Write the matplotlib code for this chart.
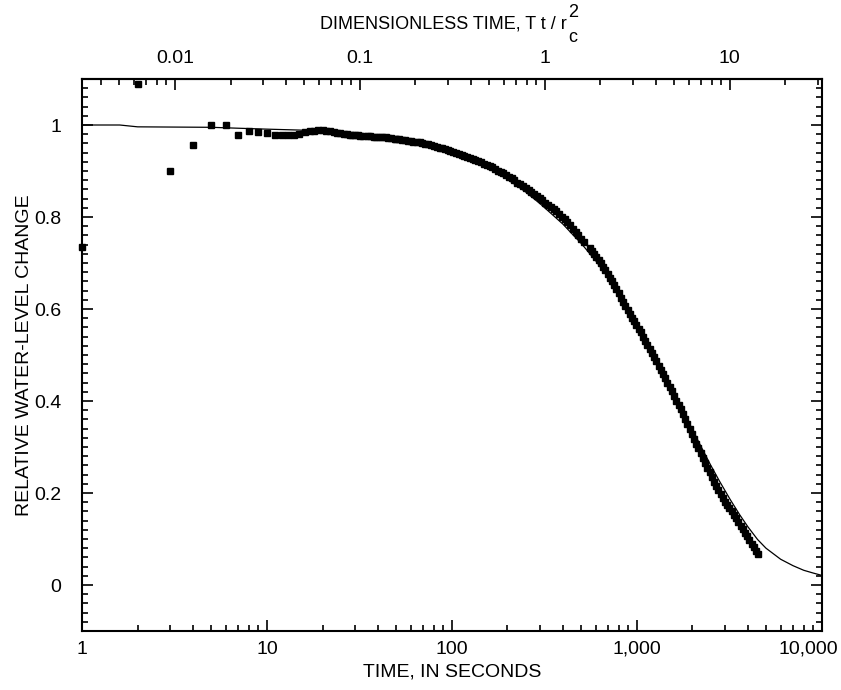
import matplotlib
matplotlib.use("Agg")
import matplotlib.pyplot as plt
from matplotlib.ticker import LogLocator, FuncFormatter, MultipleLocator
from matplotlib.transforms import ScaledTranslation

plt.rcParams['font.family'] = ['Liberation Sans', 'DejaVu Sans']

# measured data: time (s) and relative water-level change
obs_time = [1, 2, 3, 4, 5, 6, 7, 8, 9, 10, 11, 12, 13, 14, 15, 16, 17, 18, 19,
            20, 21, 22, 23, 24, 25, 26, 27, 28, 29, 30, 31, 32, 33, 35, 36, 38, 39,
            41, 42, 44, 45, 47, 49, 50, 52, 54, 56, 58, 60, 62, 65, 67, 69, 72, 74,
            77, 80, 83, 86, 89, 92, 95, 98, 102, 105, 109, 113, 117, 121, 125, 130,
            134, 139, 144, 149, 154, 160, 165, 171, 177, 184, 190, 197, 204, 211,
            218, 226, 234, 242, 251, 260, 269, 278, 288, 298, 309, 320, 331, 343,
            355, 367, 380, 393, 407, 421, 436, 452, 467, 484, 501, 518,
            557, 573, 589, 605, 622, 640, 658, 676, 695, 715, 735, 755, 776, 798,
            821, 844, 867, 892, 917, 942, 969, 996, 1024, 1052, 1082, 1112, 1143,
            1175, 1208, 1242, 1277, 1312, 1349, 1387, 1426, 1466, 1507, 1549, 1592,
            1637, 1683, 1730, 1778, 1828, 1879, 1932, 1986, 2041, 2098, 2157, 2217,
            2279, 2343, 2409, 2476, 2545, 2617, 2690, 2765, 2842, 2922, 3004, 3088,
            3174, 3263, 3354, 3448, 3545, 3644, 3746, 3851, 3959, 4070, 4184, 4301,
            4421, 4545]
obs_change = [0.735, 1.090, 0.901, 0.956, 1.000, 1.000, 0.978, 0.988, 0.985, 0.982,
              0.978, 0.978, 0.978, 0.978, 0.981, 0.984, 0.986, 0.988, 0.989,
              0.989, 0.988, 0.986, 0.985, 0.983, 0.982, 0.981, 0.980, 0.979, 0.978,
              0.978, 0.978, 0.977, 0.976, 0.976, 0.977, 0.975, 0.975, 0.974, 0.974,
              0.973, 0.972, 0.971, 0.970, 0.970, 0.969, 0.968, 0.967, 0.966, 0.965,
              0.964, 0.963, 0.962, 0.961, 0.959, 0.958, 0.956, 0.955, 0.953, 0.951,
              0.949, 0.948, 0.946, 0.944, 0.942, 0.940, 0.938, 0.935, 0.933, 0.931,
              0.929, 0.926, 0.924, 0.921, 0.919, 0.916, 0.913, 0.910, 0.908, 0.905,
              0.901, 0.898, 0.895, 0.891, 0.887, 0.884, 0.880, 0.875, 0.871, 0.867,
              0.863, 0.858, 0.854, 0.849, 0.845, 0.841, 0.836, 0.831, 0.826, 0.822,
              0.817, 0.812, 0.807, 0.801, 0.795, 0.789, 0.782, 0.775, 0.768, 0.761,
              0.753, 0.746,
              0.732, 0.726, 0.720, 0.713, 0.706, 0.699, 0.691, 0.684, 0.676, 0.668,
              0.660, 0.652, 0.643, 0.634, 0.625, 0.616, 0.607, 0.598, 0.589, 0.581,
              0.573, 0.565, 0.557, 0.549, 0.540, 0.531, 0.522, 0.513, 0.504, 0.495,
              0.486, 0.477, 0.468, 0.458, 0.449, 0.440, 0.430, 0.421, 0.411, 0.401,
              0.391, 0.382, 0.372, 0.361, 0.351, 0.340, 0.329, 0.318, 0.307, 0.297,
              0.286, 0.276, 0.265, 0.255, 0.245, 0.235, 0.225, 0.215, 0.206, 0.197,
              0.189, 0.181, 0.174, 0.167, 0.160, 0.153, 0.145, 0.137, 0.129, 0.121,
              0.114, 0.106, 0.098, 0.090, 0.082, 0.075, 0.068]

# type curve
curve_time = [1, 1.6, 2, 5, 7, 10, 15, 20, 30, 40, 50, 60, 80, 100, 130, 160, 200,
              250, 300, 350, 400, 450, 500, 600, 700, 800, 900, 1000, 1200, 1400,
              1700, 2000, 2200, 2500, 2800, 3200, 3600, 4000, 4500, 5000, 6000,
              7000, 8000, 9000, 10000]
curve_change = [1.0, 1.0, 0.996, 0.995, 0.993, 0.991, 0.989, 0.986, 0.979, 0.973,
                0.967, 0.962, 0.952, 0.941, 0.922, 0.905, 0.882, 0.855, 0.829, 0.805,
                0.784, 0.762, 0.743, 0.705, 0.669, 0.634, 0.600, 0.567, 0.509, 0.458,
                0.393, 0.338, 0.305, 0.262, 0.226, 0.186, 0.153, 0.126, 0.099, 0.080,
                0.056, 0.042, 0.032, 0.026, 0.021]

time_ticks = [1, 10, 100, 1000, 10000]
time_labels = ['1', '10', '100', '1,000', '10,000']
td_ticks = [0.01, 0.1, 1, 10]
td_labels = ['0.01', '0.1', '1', '10']

time_per_td = 318.0  # seconds per unit of dimensionless time

fig = plt.figure(figsize=(8.41, 6.90), dpi=100)
ax = fig.add_axes([0.0975, 0.0855, 0.8795, 0.80])

ax.plot(curve_time, curve_change, color='black', lw=0.9)
ax.plot(obs_time, obs_change, linestyle='none', marker='s', ms=4.2,
        color='black', mec='black', clip_on=False)

ax.set_xscale('log')
ax.set_xlim(1, 10000)
ax.set_ylim(-0.1, 1.1)

ax.set_xticks(time_ticks, labels=time_labels)
ax.xaxis.set_minor_locator(LogLocator(base=10, subs=range(2, 10)))
ax.yaxis.set_major_locator(MultipleLocator(0.2))
ax.yaxis.set_minor_locator(MultipleLocator(0.02))
ax.yaxis.set_major_formatter(FuncFormatter(lambda v, p: f'{v:g}' if abs(v) > 1e-9 else '0'))

ax.tick_params(which='both', direction='in', top=False, right=True, labelsize=14, width=1.2)
ax.tick_params(which='major', length=8)
ax.tick_params(which='minor', length=4.5)
ax.tick_params(axis='x', which='major', pad=7)
ax.tick_params(axis='y', which='major', pad=15)
for s in ax.spines.values():
    s.set_linewidth(1.5)

secax = ax.secondary_xaxis('top', functions=(lambda t: t / time_per_td,
                                              lambda d: d * time_per_td))
secax.set_xticks(td_ticks, labels=td_labels)
secax.xaxis.set_minor_locator(LogLocator(base=10, subs=range(2, 10)))
secax.tick_params(which='both', direction='in', labelsize=14, width=1.2)
secax.tick_params(which='major', length=8, pad=9)
secax.tick_params(which='minor', length=4.5)
secax.spines['top'].set_linewidth(1.5)
secax.set_xlabel('DIMENSIONLESS TIME, T t / r', fontsize=13, labelpad=15)
secax.xaxis.label.set_x(0.488)

ax.set_xlabel('TIME, IN SECONDS', fontsize=14, labelpad=4)
ax.set_ylabel('RELATIVE WATER-LEVEL CHANGE', fontsize=14, labelpad=1)

fig.canvas.draw()

# keep the last bottom label inside the figure
last = ax.xaxis.get_major_ticks()[-1].label1
last.set_horizontalalignment('right')
last.set_transform(last.get_transform() + ScaledTranslation(16 / 100, 0, fig.dpi_scale_trans))

# stacked subscript c and superscript 2 after the top label
bb = secax.xaxis.label.get_window_extent()
W, H = fig.bbox.width, fig.bbox.height
fig.text((bb.x1 + 2) / W, (bb.y0 - 5) / H, 'c', fontsize=13, ha='left', va='center')
fig.text((bb.x1 + 2) / W, (bb.y1 + 3) / H, '2', fontsize=13, ha='left', va='center')

fig.savefig('out.png', dpi=100)
